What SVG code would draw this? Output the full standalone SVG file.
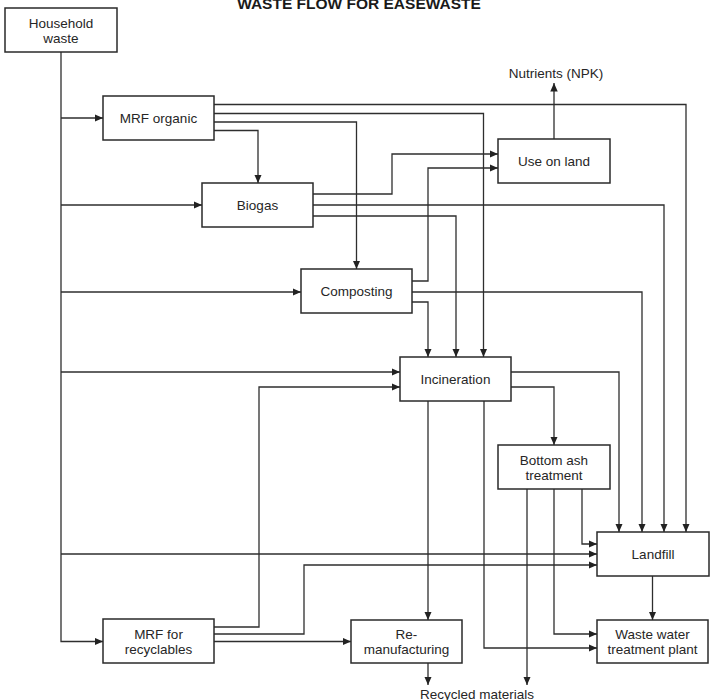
<svg xmlns="http://www.w3.org/2000/svg" width="711" height="700" viewBox="0 0 711 700">
  <defs>
    <marker id="arr" markerUnits="userSpaceOnUse" markerWidth="9" markerHeight="8" refX="8.5" refY="3.75" orient="auto">
      <path d="M0,0 L8.5,3.75 L0,7.5 z" fill="#222"/>
    </marker>
    <style>
      .box { fill: #fff; stroke: #2a2a2a; stroke-width: 1.5; }
      .lbl { font-family: "Liberation Sans", Arial, sans-serif; font-size: 13.5px; fill: #262626; text-anchor: middle; }
      .title { font-family: "Liberation Sans", Arial, sans-serif; font-size: 15.5px; font-weight: bold; fill: #1a1a1a; text-anchor: middle; }
      .ln { fill: none; stroke: #2e2e2e; stroke-width: 1.3; }
      .ln.a { marker-end: url(#arr); }
    </style>
  </defs>
  <rect width="711" height="700" fill="#fff"/>

  <text class="title" x="359" y="9">WASTE FLOW FOR EASEWASTE</text>

  <!-- connectors -->
  <g id="connectors">
    <!-- household waste trunk and its branches -->
    <path class="ln a" d="M61,52 V641.5 H103"/>
    <path class="ln a" d="M61,118 H103"/>
    <path class="ln a" d="M61,205 H202"/>
    <path class="ln a" d="M61,292 H301"/>
    <path class="ln a" d="M61,372 H400"/>
    <path class="ln a" d="M61,554 H597"/>

    <!-- MRF organic -->
    <path class="ln a" d="M214,104.5 H686 V532"/>
    <path class="ln a" d="M214,113.5 H483.5 V357"/>
    <path class="ln a" d="M214,122 H356.5 V269"/>
    <path class="ln a" d="M214,130.5 H258 V183"/>

    <!-- Biogas -->
    <path class="ln a" d="M313,194 H392 V154 H498"/>
    <path class="ln a" d="M313,205 H664 V532"/>
    <path class="ln a" d="M313,216 H456 V357"/>

    <!-- Composting -->
    <path class="ln a" d="M412,281 H428 V168 H498"/>
    <path class="ln a" d="M412,292 H642 V532"/>
    <path class="ln a" d="M412,302 H428 V357"/>

    <!-- Use on land -->
    <path class="ln a" d="M554,139 V83"/>

    <!-- Incineration -->
    <path class="ln a" d="M511,372 H619 V532"/>
    <path class="ln a" d="M511,387 H554 V445"/>
    <path class="ln a" d="M428,401 V620"/>
    <path class="ln a" d="M484,401 V648 H597"/>

    <!-- MRF for recyclables -->
    <path class="ln a" d="M214,627 H259 V387 H400"/>
    <path class="ln a" d="M214,634 H304 V565 H597"/>
    <path class="ln a" d="M214,641.5 H351"/>

    <!-- Bottom ash treatment -->
    <path class="ln a" d="M527,489 V685"/>
    <path class="ln a" d="M554,489 V634 H597"/>
    <path class="ln a" d="M582,489 V544 H597"/>

    <!-- Landfill -->
    <path class="ln a" d="M652.5,576 V620"/>

    <!-- Re-manufacturing -->
    <path class="ln a" d="M428,663 V685"/>
  </g>

  <!-- nodes -->
  <g id="household">
    <rect class="box" x="5" y="8" width="112" height="44"/>
    <text class="lbl" x="61" y="28">Household</text>
    <text class="lbl" x="61" y="43">waste</text>
  </g>
  <g id="mrf-organic">
    <rect class="box" x="103" y="96" width="111" height="44"/>
    <text class="lbl" x="158.5" y="123">MRF organic</text>
  </g>
  <g id="biogas">
    <rect class="box" x="202" y="183" width="111" height="44"/>
    <text class="lbl" x="257.5" y="210">Biogas</text>
  </g>
  <g id="composting">
    <rect class="box" x="301" y="269" width="111" height="44"/>
    <text class="lbl" x="356.5" y="296">Composting</text>
  </g>
  <g id="incineration">
    <rect class="box" x="400" y="357" width="111" height="44"/>
    <text class="lbl" x="455.5" y="384">Incineration</text>
  </g>
  <g id="use-on-land">
    <rect class="box" x="498" y="139" width="112" height="44"/>
    <text class="lbl" x="554" y="166">Use on land</text>
  </g>
  <g id="nutrients">
    <text class="lbl" x="556" y="78">Nutrients (NPK)</text>
  </g>
  <g id="bottom-ash">
    <rect class="box" x="498" y="445" width="112" height="44"/>
    <text class="lbl" x="554" y="464.5">Bottom ash</text>
    <text class="lbl" x="554" y="479.5">treatment</text>
  </g>
  <g id="landfill">
    <rect class="box" x="597" y="532" width="112" height="44"/>
    <text class="lbl" x="653" y="559">Landfill</text>
  </g>
  <g id="wastewater">
    <rect class="box" x="597" y="620" width="111" height="43"/>
    <text class="lbl" x="652.5" y="639">Waste water</text>
    <text class="lbl" x="652.5" y="654">treatment plant</text>
  </g>
  <g id="mrf-recyclables">
    <rect class="box" x="103" y="619" width="111" height="44"/>
    <text class="lbl" x="158.5" y="638.5">MRF for</text>
    <text class="lbl" x="158.5" y="653.5">recyclables</text>
  </g>
  <g id="remanufacturing">
    <rect class="box" x="351" y="620" width="111" height="43"/>
    <text class="lbl" x="406.5" y="639">Re-</text>
    <text class="lbl" x="406.5" y="654">manufacturing</text>
  </g>
  <g id="recycled">
    <text class="lbl" x="477" y="699">Recycled materials</text>
  </g>
</svg>
